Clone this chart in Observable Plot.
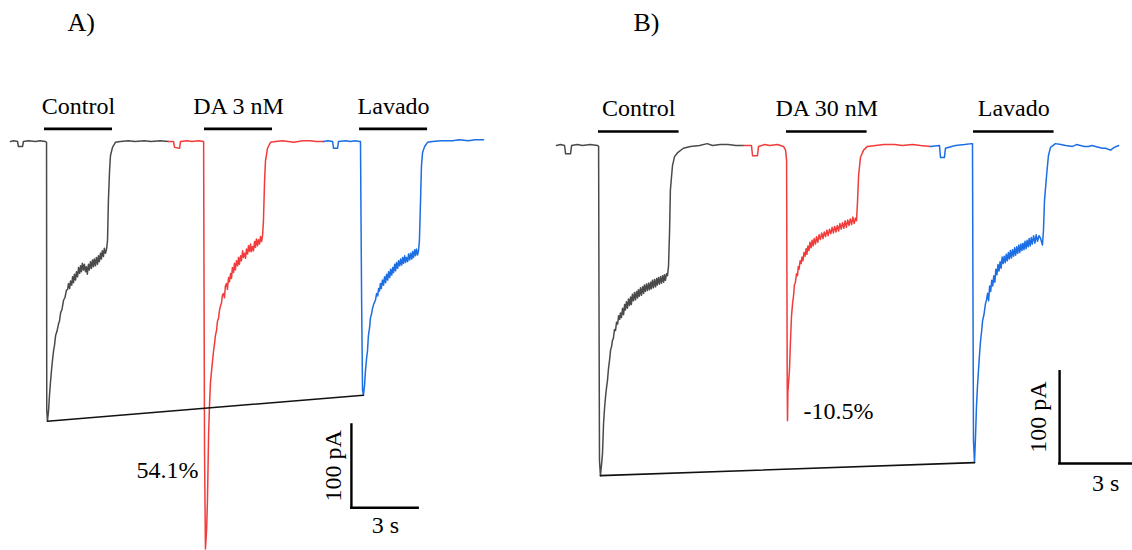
<!DOCTYPE html>
<html><head><meta charset="utf-8">
<script src="https://cdn.jsdelivr.net/npm/d3@7"></script>
<script src="https://cdn.jsdelivr.net/npm/@observablehq/plot@0.6"></script>
<style>
html,body{margin:0;padding:0;background:#fff;overflow:hidden;}
#fig{position:relative;width:1132px;height:550px;overflow:hidden;}
#fig svg{position:absolute;top:0;font-family:"Liberation Serif","Times New Roman",serif;}
</style></head><body><div id="fig"></div>
<script>
// ---- Data (time in s, current in pA) ----
const panelTitles = ["A)", "B)"];
const conditionsA = ["Control", "DA 3 nM", "Lavado"];
const conditionsB = ["Control", "DA 30 nM", "Lavado"];
const traceColors = ["#4a4a4a", "#f23b3b", "#1b6ee3"];
const percentLabels = ["54.1%", "-10.5%"];
const scaleBarValues = {current: 100, time: 3}; // pA, s
const scaleBarLabels = ["100 pA", "3 s"];

// application bars: start time (s) and duration (s)
const barStartA = [1.5, 8.56, 15.4];
const barDurA = [3, 3, 3];
const barStartB = [1.615, 8.846, 16.038];
const barDurB = [3.1, 3.1, 3.1];

// Panel A traces [t (s), I (pA)]
const controlA = [[0,0],[0.15,1],[0.31,0],[0.35,-6],[0.53,-6],[0.57,0],[0.8,1],[1.1,0],[1.3,1],[1.54,0],[1.59,-1],[1.60,-320],[1.63,-333],[1.68,-320],[1.72,-302],[1.76,-288],[1.80,-275],[1.85,-261],[1.90,-249],[1.94,-243],[1.99,-231],[2.05,-226],[2.12,-217],[2.16,-214],[2.21,-204],[2.27,-200],[2.34,-189],[2.40,-186],[2.47,-177],[2.52,-176],[2.56,-169],[2.61,-175],[2.65,-166],[2.70,-171],[2.74,-161],[2.78,-168],[2.82,-158],[2.87,-165],[2.91,-155],[2.96,-161],[3.00,-150],[3.05,-157],[3.09,-148],[3.13,-155],[3.17,-145],[3.22,-153],[3.26,-146],[3.31,-155],[3.35,-149],[3.39,-158],[3.44,-146],[3.48,-153],[3.53,-143],[3.57,-151],[3.62,-141],[3.66,-149],[3.70,-140],[3.75,-148],[3.79,-138],[3.84,-146],[3.88,-136],[3.92,-143],[3.97,-133],[4.01,-140],[4.05,-130],[4.10,-137],[4.14,-127],[4.19,-133],[4.24,-128],[4.28,-118],[4.32,-70],[4.37,-35],[4.41,-17],[4.50,-7],[4.63,-1],[4.85,0],[5.2,1],[5.5,0],[5.9,1],[6.2,0],[6.6,1],[6.97,0]];
const daA = [[6.97,0],[7.19,0],[7.24,-7],[7.46,-8],[7.50,0],[7.8,1],[8.0,0],[8.3,1],[8.52,0],[8.54,-189],[8.56,-368],[8.60,-485],[8.65,-463],[8.69,-427],[8.74,-348],[8.78,-314],[8.82,-288],[8.87,-273],[8.91,-262],[8.96,-249],[9.00,-241],[9.04,-231],[9.09,-225],[9.13,-214],[9.18,-210],[9.22,-201],[9.27,-195],[9.31,-192],[9.35,-183],[9.40,-181],[9.44,-186],[9.48,-172],[9.53,-169],[9.57,-176],[9.62,-162],[9.66,-167],[9.71,-157],[9.75,-163],[9.79,-150],[9.84,-156],[9.88,-145],[9.92,-153],[9.97,-142],[10.02,-148],[10.06,-138],[10.10,-146],[10.15,-136],[10.19,-142],[10.24,-130],[10.28,-138],[10.33,-133],[10.37,-139],[10.41,-128],[10.46,-134],[10.50,-124],[10.55,-131],[10.59,-122],[10.63,-131],[10.68,-125],[10.72,-130],[10.77,-119],[10.81,-126],[10.85,-116],[10.90,-124],[10.94,-117],[10.99,-122],[11.03,-113],[11.08,-119],[11.12,-112],[11.16,-94],[11.21,-46],[11.25,-23],[11.34,-8],[11.47,-1],[11.69,0],[12.0,1],[12.5,-1],[12.9,1],[13.2,1],[13.5,0],[13.81,0]];
const washA = [[13.81,0],[14.0,1],[14.21,0],[14.25,-8],[14.43,-8],[14.47,0],[14.8,1],[15.0,0],[15.2,1],[15.40,0],[15.44,0],[15.49,-189],[15.53,-296],[15.57,-302],[15.62,-290],[15.66,-273],[15.71,-258],[15.75,-249],[15.79,-231],[15.84,-222],[15.88,-210],[15.93,-205],[15.97,-199],[16.03,-193],[16.10,-189],[16.15,-181],[16.20,-184],[16.24,-175],[16.28,-178],[16.32,-169],[16.36,-175],[16.41,-165],[16.46,-171],[16.50,-161],[16.55,-168],[16.59,-158],[16.64,-165],[16.68,-155],[16.73,-162],[16.77,-152],[16.82,-159],[16.86,-150],[16.90,-156],[16.95,-146],[16.99,-154],[17.03,-144],[17.08,-151],[17.12,-142],[17.17,-148],[17.21,-140],[17.26,-147],[17.30,-138],[17.34,-145],[17.39,-136],[17.43,-144],[17.47,-138],[17.52,-143],[17.56,-134],[17.61,-141],[17.65,-133],[17.70,-140],[17.74,-131],[17.78,-138],[17.83,-129],[17.87,-136],[17.91,-128],[17.96,-135],[18.00,-130],[18.04,-118],[18.09,-70],[18.13,-29],[18.18,-13],[18.27,-6],[18.40,-1],[18.62,0],[19.0,1],[19.5,1],[19.8,2],[20.2,1],[20.5,2],[20.87,2]];

// Panel B traces [t (s), I (pA)]
const controlB = [[0,0],[0.15,1],[0.31,0],[0.35,-9],[0.54,-9],[0.58,0],[0.8,1],[1.0,0],[1.3,1],[1.58,0],[1.62,-1],[1.635,-167],[1.654,-339],[1.69,-355],[1.73,-344],[1.77,-331],[1.81,-299],[1.85,-282],[1.89,-269],[1.93,-259],[1.96,-253],[2.00,-240],[2.04,-231],[2.08,-220],[2.12,-216],[2.15,-210],[2.19,-207],[2.23,-198],[2.27,-199],[2.31,-190],[2.35,-192],[2.39,-183],[2.43,-187],[2.46,-180],[2.50,-185],[2.54,-175],[2.58,-182],[2.62,-171],[2.65,-177],[2.69,-168],[2.73,-175],[2.77,-165],[2.81,-172],[2.85,-163],[2.88,-171],[2.92,-160],[2.96,-167],[3.00,-158],[3.04,-166],[3.08,-157],[3.12,-164],[3.15,-155],[3.19,-162],[3.23,-153],[3.27,-161],[3.31,-152],[3.35,-159],[3.38,-150],[3.42,-157],[3.46,-149],[3.50,-156],[3.54,-148],[3.58,-155],[3.62,-147],[3.65,-154],[3.69,-145],[3.73,-153],[3.77,-144],[3.81,-152],[3.85,-143],[3.88,-150],[3.92,-142],[3.96,-149],[4.00,-141],[4.04,-148],[4.08,-140],[4.12,-147],[4.15,-139],[4.19,-145],[4.23,-138],[4.27,-140],[4.31,-129],[4.35,-91],[4.38,-48],[4.46,-22],[4.54,-12],[4.65,-8],[4.88,-3],[5.15,-1],[5.5,0],[5.8,2],[6.0,0],[6.3,1],[6.6,1],[6.9,0],[7.19,0]];
const daB = [[7.19,0],[7.50,0],[7.54,-11],[7.73,-11],[7.77,-1],[8.0,1],[8.2,0],[8.5,1],[8.73,-1],[8.81,-5],[8.85,-16],[8.865,-167],[8.875,-261],[8.885,-296],[8.90,-265],[8.96,-242],[9.0,-210],[9.04,-183],[9.08,-170],[9.12,-161],[9.15,-150],[9.19,-147],[9.23,-138],[9.27,-140],[9.30,-130],[9.33,-133],[9.37,-124],[9.41,-127],[9.44,-120],[9.48,-124],[9.52,-115],[9.56,-119],[9.60,-111],[9.63,-117],[9.67,-108],[9.71,-113],[9.75,-104],[9.79,-110],[9.83,-102],[9.87,-108],[9.91,-100],[9.96,-106],[10.0,-98],[10.05,-104],[10.1,-96],[10.15,-101],[10.2,-94],[10.25,-100],[10.3,-93],[10.35,-98],[10.4,-91],[10.45,-97],[10.5,-90],[10.55,-95],[10.6,-88],[10.65,-94],[10.7,-87],[10.75,-93],[10.8,-86],[10.85,-92],[10.9,-84],[10.95,-90],[11.0,-83],[11.05,-89],[11.1,-81],[11.15,-88],[11.2,-80],[11.25,-86],[11.3,-79],[11.35,-85],[11.4,-77],[11.45,-84],[11.5,-78],[11.54,-81],[11.58,-59],[11.62,-32],[11.69,-13],[11.81,-5],[11.96,-1],[12.27,0],[12.6,1],[13.0,1],[13.3,0],[13.7,1],[14.0,0],[14.39,-1]];
const washB = [[14.39,-1],[14.73,0],[14.77,-13],[14.92,-13],[14.96,-3],[15.2,-1],[15.35,0],[15.7,1],[15.96,2],[16.0,2],[16.019,-167],[16.038,-317],[16.077,-341],[16.115,-314],[16.154,-280],[16.19,-260],[16.23,-242],[16.27,-225],[16.31,-210],[16.35,-200],[16.39,-188],[16.44,-182],[16.5,-170],[16.54,-166],[16.58,-159],[16.62,-167],[16.66,-151],[16.70,-157],[16.74,-145],[16.78,-151],[16.82,-140],[16.86,-147],[16.90,-133],[16.94,-139],[16.98,-128],[17.02,-135],[17.06,-125],[17.10,-132],[17.14,-120],[17.18,-127],[17.22,-119],[17.26,-126],[17.30,-117],[17.34,-124],[17.38,-115],[17.42,-122],[17.46,-113],[17.50,-121],[17.54,-112],[17.58,-119],[17.62,-110],[17.66,-118],[17.70,-109],[17.74,-116],[17.78,-107],[17.82,-115],[17.86,-106],[17.90,-113],[17.94,-105],[17.98,-112],[18.02,-103],[18.06,-111],[18.10,-102],[18.14,-109],[18.18,-100],[18.22,-108],[18.26,-99],[18.30,-106],[18.35,-97],[18.40,-105],[18.45,-96],[18.50,-103],[18.56,-97],[18.62,-100],[18.69,-107],[18.73,-91],[18.77,-59],[18.85,-32],[18.92,-11],[19.0,-2],[19.19,2],[19.4,1],[19.58,0],[19.85,-1],[20.0,1],[20.15,0],[20.3,-1],[20.45,-1],[20.6,0],[20.73,-1],[21.0,-3],[21.12,-3],[21.31,-5],[21.45,-2],[21.62,0]];

// ---- Drawing ----
const FONT = "Liberation Serif";
const toRows = pairs => pairs.map(([t, pA]) => ({t, pA}));

function panel(cfg) {
  const rows = cfg.traces.map(toRows);
  const peaks = rows.map(r => d3.least(r, d => d.pA));
  const bars = cfg.conditions.map((c, i) => ({c, t1: cfg.barStart[i], t2: cfg.barStart[i] + cfg.barDur[i]}));
  const sb = {t0: cfg.sbT, top: cfg.sbTop, bottom: cfg.sbTop - scaleBarValues.current};
  sb.t1 = sb.t0 + scaleBarValues.time;
  const txt = {fontFamily: FONT, fontSize: 24, fill: "#000", lineAnchor: "middle"};
  const svg = Plot.plot({
    width: cfg.width, height: 550, margin: 0,
    x: {domain: cfg.xDomain, axis: null},
    y: {domain: cfg.yDomain, axis: null},
    style: {background: "transparent", overflow: "hidden"},
    marks: [
      ...rows.map((r, i) => Plot.line(r, {x: "t", y: "pA", stroke: traceColors[i], strokeWidth: 1.5})),
      Plot.line([peaks[0], peaks[2]], {x: "t", y: "pA", stroke: "#111", strokeWidth: 1.6}),
      Plot.ruleY(bars, {x1: "t1", x2: "t2", y: cfg.barY, stroke: "#000", strokeWidth: 2.6}),
      Plot.text(bars, {...txt, x: d => (d.t1 + d.t2) / 2, y: cfg.labelY, text: "c"}),
      Plot.text([cfg.pct], {...txt, x: peaks[1].t, y: cfg.pctY, dx: cfg.pctDx, text: d => d, textAnchor: cfg.pctAnchor}),
      Plot.ruleX([sb], {x: "t0", y1: "top", y2: "bottom", stroke: "#000", strokeWidth: 2.4}),
      Plot.ruleY([sb], {y: "bottom", x1: d => d.t0 - 0.04, x2: "t1", stroke: "#000", strokeWidth: 2.4}),
      Plot.text([sb], {...txt, x: "t0", y: d => (d.top + d.bottom) / 2, dx: cfg.sbLabelDx, rotate: -90, text: () => scaleBarLabels[0]}),
      Plot.text([sb], {...txt, x: d => (d.t0 + d.t1) / 2, y: "bottom", dx: cfg.sTextDx, dy: cfg.sTextDy, text: () => scaleBarLabels[1]}),
      Plot.text([cfg.title], {...txt, fontSize: 26, frameAnchor: "top-left", dx: cfg.titleDx, dy: 22, text: d => d, textAnchor: "start"})
    ]
  });
  svg.style.left = cfg.left + "px";
  return svg;
}

const fig = document.getElementById("fig");
fig.appendChild(panel({
  left: 0, width: 540, xDomain: [-0.441, 23.382], yDomain: [-486.9, 167.86],
  traces: [controlA, daA, washA], conditions: conditionsA, barStart: barStartA, barDur: barDurA,
  barY: 15, labelY: 42, pct: percentLabels[0], pctY: -392, pctDx: -7, pctAnchor: "end",
  sbT: 15.04, sbTop: -336, sbLabelDx: -18, sTextDx: 0, sTextDy: 18, title: panelTitles[0], titleDx: 67
}));
fig.appendChild(panel({
  left: 540, width: 592, xDomain: [-0.615, 22.154], yDomain: [-435.5, 155.9],
  traces: [controlB, daB, washB], conditions: conditionsB, barStart: barStartB, barDur: barDurB,
  barY: 15, labelY: 40, pct: percentLabels[1], pctY: -286, pctDx: 16, pctAnchor: "start",
  sbT: 19.35, sbTop: -242, sbLabelDx: -21, sTextDx: 7, sTextDy: 20, title: panelTitles[1], titleDx: 93
}));
</script></body></html>
